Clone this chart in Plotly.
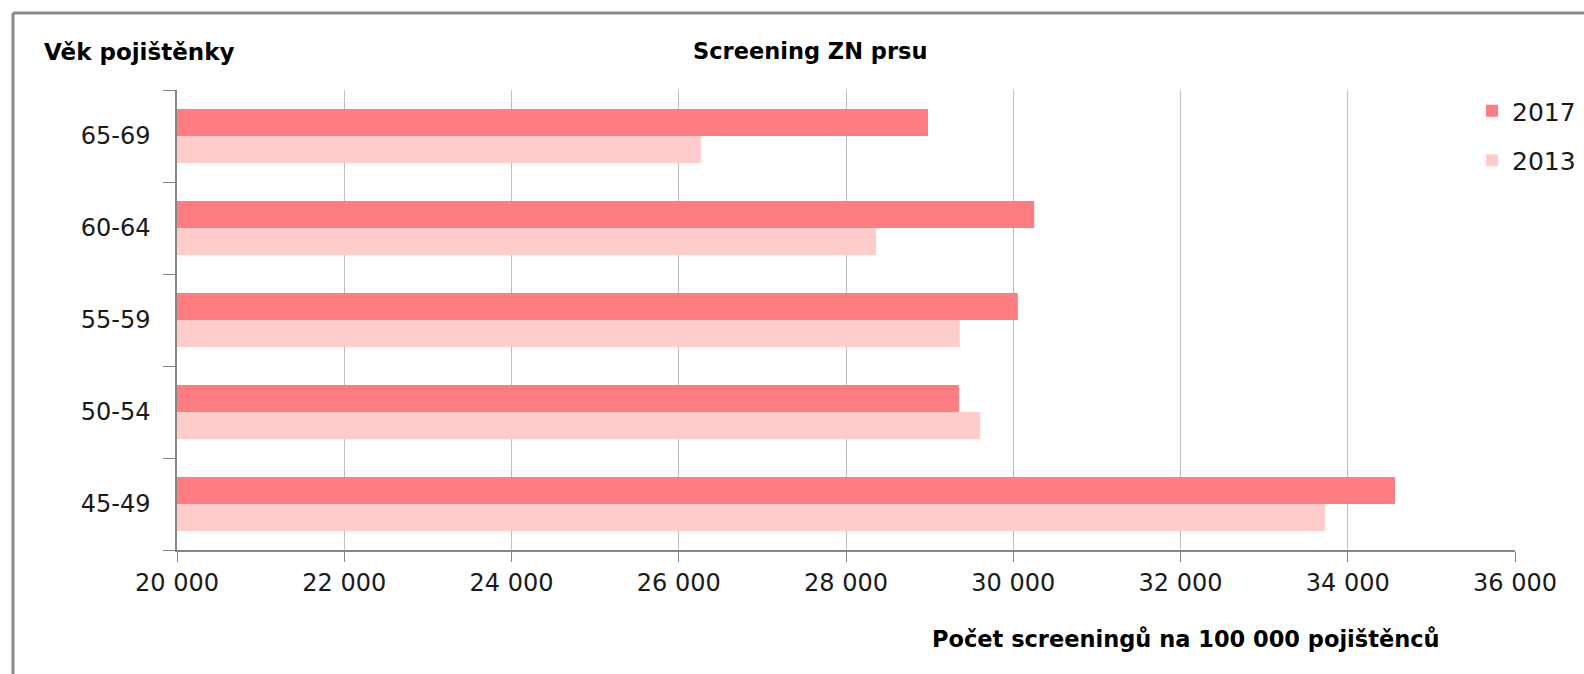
import plotly.graph_objects as go

categories = ["45-49", "50-54", "55-59", "60-64", "65-69"]
values_2017 = [34565, 29350, 30055, 30250, 28980]
values_2013 = [33730, 29605, 29360, 28360, 26265]
series_names = ["2017", "2013"]
x_ticks = [20000, 22000, 24000, 26000, 28000, 30000, 32000, 34000, 36000]

W, H = 1584, 674
L, R, T, B = 177, 69, 90, 124
PW, PH = W - L - R, H - T - B

def px(x):
    return (x - L) / PW

def py(y):
    return 1 - (y - T) / PH

FONT = "DejaVu Sans"

fig = go.Figure()
fig.add_trace(go.Bar(
    y=categories, x=values_2013, name=series_names[1], orientation="h",
    marker=dict(color="#FFCCCC", line=dict(width=0)), legendgroup="b", legendrank=2,
))
fig.add_trace(go.Bar(
    y=categories, x=values_2017, name=series_names[0], orientation="h",
    marker=dict(color="#FF7C80", line=dict(width=0)), legendgroup="a", legendrank=1,
))

fig.update_layout(
    width=W, height=H,
    margin=dict(l=L, r=R, t=T, b=B, pad=0, autoexpand=False),
    paper_bgcolor="white", plot_bgcolor="white",
    barmode="group", bargap=0.413, bargroupgap=0,
    separators=", ",
    font=dict(family=FONT, size=24, color="#1a1a1a"),
    showlegend=True,
    legend=dict(
        x=px(1472), y=py(88), xanchor="left", yanchor="top",
        bgcolor="white", traceorder="grouped", tracegroupgap=14,
        font=dict(family=FONT, size=25, color="#1a1a1a"),
        itemwidth=30,
    ),
    xaxis=dict(
        range=[20000, 36000], tickvals=x_ticks, tickformat=",d",
        showgrid=True, gridcolor="#c0c0c0", gridwidth=1,
        showline=True, linecolor="#868686", linewidth=1.5,
        ticks="outside", ticklen=10, tickcolor="#868686",
        zeroline=False, tickfont=dict(family=FONT, size=24, color="#1a1a1a"),
        automargin=False,
    ),
    yaxis=dict(
        categoryorder="array", categoryarray=categories,
        showline=True, linecolor="#868686", linewidth=1.5,
        ticks="outside", ticklen=12, tickcolor="#868686",
        tickson="boundaries", showgrid=False,
        tickfont=dict(family=FONT, size=24, color="#1a1a1a"),
        ticklabelstandoff=20, automargin=False,
    ),
    annotations=[
        dict(text="<b>Věk pojištěnky</b>", x=px(42), y=py(52), xref="paper", yref="paper",
             xanchor="left", yanchor="middle", showarrow=False,
             font=dict(family=FONT, size=23, color="#000")),
        dict(text="<b>Screening ZN prsu</b>", x=px(810), y=py(51), xref="paper", yref="paper",
             xanchor="center", yanchor="middle", showarrow=False,
             font=dict(family=FONT, size=22.5, color="#000")),
        dict(text="<b>Počet screeningů na 100 000 pojištěnců</b>", x=px(1186), y=py(639),
             xref="paper", yref="paper", xanchor="center", yanchor="middle", showarrow=False,
             font=dict(family=FONT, size=22.5, color="#000")),
    ],
    shapes=[
        dict(type="line", xref="paper", yref="paper", x0=px(13), x1=px(W + 5), y0=py(13), y1=py(13),
             line=dict(color="#888888", width=3)),
        dict(type="line", xref="paper", yref="paper", x0=px(13), x1=px(13), y0=py(13), y1=py(H + 5),
             line=dict(color="#888888", width=3)),
    ],
)

fig.write_html("out.html", config={"displayModeBar": False},
               post_script="document.body.style.margin='0';")
